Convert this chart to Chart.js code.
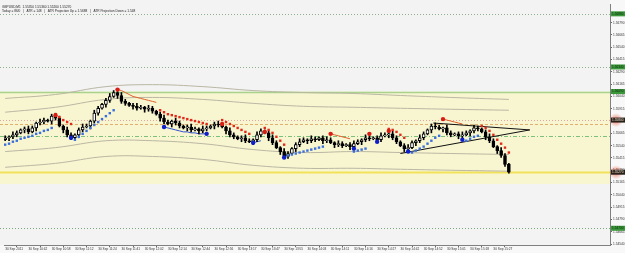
<!DOCTYPE html>
<html>
<head>
<meta charset="utf-8">
<script src="https://cdn.jsdelivr.net/npm/chart.js@4.4.0/dist/chart.umd.min.js"></script>
<style>
html,body{margin:0;padding:0;background:#f8f8f8;}
#wrap{width:625px;height:253px;}
</style>
</head>
<body>
<div id="wrap"><canvas id="myChart" width="625" height="253"></canvas></div>
<script>
// header texts
var symbolLine = "GBPUSD,M1  1.55350 1.55360 1.55260 1.55270";
var infoLine = "Today = 86/0   |   ATR = 148   |   ATR Projection Up = 1.5688   |   ATR Projection Down = 1.548";

// time axis
var timeLabels = ["30 Sep 2011","30 Sep 10:42","30 Sep 10:58","30 Sep 11:12","30 Sep 11:24","30 Sep 11:41",
  "30 Sep 12:02","30 Sep 12:14","30 Sep 12:44","30 Sep 12:56","30 Sep 13:17","30 Sep 13:47","30 Sep 13:55",
  "30 Sep 14:03","30 Sep 14:11","30 Sep 14:16","30 Sep 14:27","30 Sep 14:42","30 Sep 14:52","30 Sep 15:01",
  "30 Sep 15:18","30 Sep 15:27"];
var labelEvery = 6;

// price axis
var priceTicks = [1.56790,1.56665,1.56540,1.56415,1.56290,1.56165,1.56040,1.55915,1.55790,1.55665,
  1.55540,1.55415,1.55290,1.55165,1.55040,1.54915,1.54790,1.54665,1.54540];

// candles
var opens = [1.5560,1.5562,1.5563,1.5565,1.5567,1.5570,1.5571,1.5568,1.5572,1.5577,
1.5578,1.5580,1.5579,1.5584,1.5582,1.5574,1.5570,1.5565,1.5562,1.5565,
1.5570,1.5573,1.5574,1.5579,1.5587,1.5592,1.5596,1.5600,1.5604,1.5608,
1.5605,1.5599,1.5597,1.5595,1.5594,1.5592,1.5593,1.5591,1.5592,1.5589,
1.5586,1.5582,1.5578,1.5576,1.5579,1.5577,1.5574,1.5572,1.5573,1.5570,
1.5571,1.5569,1.5571,1.5572,1.5574,1.5576,1.5575,1.5573,1.5569,1.5565,
1.5563,1.5561,1.5562,1.5559,1.5558,1.5560,1.5565,1.5569,1.5567,1.5562,
1.5557,1.5552,1.5548,1.5543,1.5546,1.5551,1.5555,1.5558,1.5560,1.5559,
1.5561,1.5560,1.5562,1.5559,1.5560,1.5557,1.5555,1.5556,1.5554,1.5555,
1.5553,1.5556,1.5558,1.5560,1.5562,1.5561,1.5562,1.5560,1.5564,1.5565,
1.5566,1.5562,1.5558,1.5554,1.5551,1.5552,1.5557,1.5559,1.5562,1.5566,
1.5570,1.5574,1.5573,1.5571,1.5572,1.5567,1.5565,1.5566,1.5564,1.5565,
1.5567,1.5569,1.5572,1.5571,1.5568,1.5563,1.5559,1.5553,1.5549,1.5544,
1.5535];
var highs = [1.5564,1.5564,1.5568,1.5569,1.5571,1.5573,1.5574,1.5574,1.5578,1.5581,
1.5582,1.5581,1.5586,1.5587,1.5584,1.5575,1.5573,1.5567,1.5566,1.5572,
1.5576,1.5576,1.5580,1.5590,1.5594,1.5597,1.5602,1.5607,1.5610,1.5609,
1.5608,1.5601,1.5598,1.5597,1.5597,1.5595,1.5594,1.5595,1.5594,1.5590,
1.5588,1.5585,1.5580,1.5580,1.5582,1.5579,1.5575,1.5575,1.5576,1.5573,
1.5572,1.5574,1.5574,1.5575,1.5578,1.5579,1.5577,1.5574,1.5572,1.5567,
1.5564,1.5564,1.5565,1.5561,1.5561,1.5568,1.5571,1.5570,1.5569,1.5565,
1.5559,1.5553,1.5551,1.5548,1.5552,1.5557,1.5561,1.5562,1.5561,1.5564,
1.5563,1.5563,1.5564,1.5563,1.5562,1.5558,1.5559,1.5558,1.5556,1.5557,
1.5559,1.5560,1.5561,1.5565,1.5564,1.5563,1.5564,1.5567,1.5567,1.5567,
1.5569,1.5564,1.5559,1.5556,1.5555,1.5559,1.5560,1.5565,1.5568,1.5571,
1.5576,1.5577,1.5575,1.5573,1.5575,1.5569,1.5567,1.5568,1.5568,1.5569,
1.5570,1.5575,1.5574,1.5572,1.5570,1.5566,1.5561,1.5554,1.5552,1.5546,
1.5536];
var lows = [1.5559,1.5559,1.5561,1.5563,1.5566,1.5567,1.5566,1.5567,1.5569,1.5575,
1.5576,1.5578,1.5576,1.5580,1.5573,1.5567,1.5563,1.5560,1.5561,1.5562,
1.5568,1.5572,1.5571,1.5577,1.5585,1.5591,1.5593,1.5598,1.5603,1.5602,
1.5597,1.5595,1.5594,1.5591,1.5590,1.5591,1.5588,1.5589,1.5587,1.5585,
1.5579,1.5576,1.5575,1.5573,1.5575,1.5572,1.5571,1.5569,1.5568,1.5569,
1.5566,1.5567,1.5569,1.5571,1.5571,1.5573,1.5572,1.5566,1.5563,1.5561,
1.5560,1.5558,1.5557,1.5557,1.5555,1.5558,1.5563,1.5566,1.5559,1.5555,
1.5551,1.5545,1.5541,1.5541,1.5545,1.5548,1.5553,1.5557,1.5556,1.5557,
1.5558,1.5559,1.5556,1.5557,1.5556,1.5552,1.5553,1.5552,1.5553,1.5550,
1.5551,1.5555,1.5555,1.5558,1.5559,1.5560,1.5557,1.5558,1.5563,1.5562,
1.5560,1.5556,1.5553,1.5548,1.5549,1.5551,1.5554,1.5557,1.5560,1.5565,
1.5567,1.5571,1.5570,1.5568,1.5565,1.5563,1.5564,1.5561,1.5562,1.5564,
1.5564,1.5567,1.5569,1.5567,1.5560,1.5557,1.5552,1.5546,1.5542,1.5533,
1.5526];
var closes = [1.5562,1.5563,1.5565,1.5567,1.5570,1.5571,1.5568,1.5572,1.5577,1.5578,
1.5580,1.5579,1.5584,1.5582,1.5574,1.5570,1.5565,1.5562,1.5565,1.5570,
1.5573,1.5574,1.5579,1.5587,1.5592,1.5596,1.5600,1.5604,1.5608,1.5605,
1.5599,1.5597,1.5595,1.5594,1.5592,1.5593,1.5591,1.5592,1.5589,1.5586,
1.5582,1.5578,1.5576,1.5579,1.5577,1.5574,1.5572,1.5573,1.5570,1.5571,
1.5569,1.5571,1.5572,1.5574,1.5576,1.5575,1.5573,1.5569,1.5565,1.5563,
1.5561,1.5562,1.5559,1.5558,1.5560,1.5565,1.5569,1.5567,1.5562,1.5557,
1.5552,1.5548,1.5543,1.5546,1.5551,1.5555,1.5558,1.5560,1.5559,1.5561,
1.5560,1.5562,1.5559,1.5560,1.5557,1.5555,1.5556,1.5554,1.5555,1.5553,
1.5556,1.5558,1.5560,1.5562,1.5561,1.5562,1.5560,1.5564,1.5565,1.5566,
1.5562,1.5558,1.5554,1.5551,1.5552,1.5557,1.5559,1.5562,1.5566,1.5570,
1.5574,1.5573,1.5571,1.5572,1.5567,1.5565,1.5566,1.5564,1.5565,1.5567,
1.5569,1.5572,1.5571,1.5568,1.5563,1.5559,1.5553,1.5549,1.5544,1.5535,
1.5527];

// envelope bands, sampled at these bars
var envBars = [0,13,26,38,51,64,77,90,102,115,130];
var envUpperOuter = [1.5602,1.5606,1.5614,1.5616,1.5614,1.5610,1.5608,1.5607,1.5605,1.5603,1.5601];
var envUpperInner = [1.5588,1.5593,1.5601,1.5603,1.5601,1.5597,1.5594,1.5593,1.5592,1.5591,1.5590];
var envLowerInner = [1.5548,1.5552,1.5559,1.5559,1.5556,1.5550,1.5547,1.5548,1.5547,1.5546,1.5545];
var envLowerOuter = [1.5532,1.5536,1.5543,1.5543,1.5540,1.5534,1.5531,1.5531,1.5530,1.5529,1.5528];

// trailing stop marks [bar, price]
var blueSquares = [[0,1.5555],[1,1.5556],[2,1.5558],[3,1.5559],[4,1.5561],[5,1.5562],[6,1.5563],[7,1.5564],[8,1.5566],[9,1.5567],[10,1.5569],[11,1.5570],[12,1.5572],
  [18,1.5560],[19,1.5563],[20,1.5566],[21,1.5569],[22,1.5572],[23,1.5575],[24,1.5578],[25,1.5581],[26,1.5584],[27,1.5587],[28,1.5590],
  [73,1.5544],[74,1.5545],[75,1.5546],[76,1.5547],[77,1.5548],[78,1.5549],[79,1.5550],[80,1.5551],[81,1.5552],[82,1.5553],
  [90,1.5548],[91,1.5549],[92,1.5550],[93,1.5551],
  [105,1.5547],[106,1.5549],[107,1.5551],[108,1.5553],[109,1.5556],[110,1.5559],[111,1.5562],[112,1.5564],
  [119,1.5559],[120,1.5561],[121,1.5563],[122,1.5564]];
var redSquares = [[13,1.5586],[14,1.5583],[15,1.5580],[16,1.5578],[17,1.5576],
  [40,1.5590],[41,1.5588],[42,1.5586],[43,1.5585],[44,1.5584],[45,1.5583],[46,1.5582],[47,1.5581],[48,1.5580],[49,1.5579],[50,1.5578],[51,1.5577],[52,1.5576],
  [56,1.5580],[57,1.5578],[58,1.5576],[59,1.5574],[60,1.5572],[61,1.5570],[62,1.5568],[63,1.5566],
  [67,1.5572],[68,1.5570],[69,1.5567],[70,1.5563],[71,1.5559],[72,1.5555],
  [99,1.5571],[100,1.5570],[101,1.5568],[102,1.5565],[103,1.5562],
  [123,1.5574],[124,1.5572],[125,1.5569],[126,1.5565],[127,1.5560],[128,1.5556],[129,1.5552],[130,1.5547]];
var redStopLines = [
  [[29,1.5611],[30,1.5610],[31,1.5608],[32,1.5606],[33,1.5604],[34,1.5603],[35,1.5602],[36,1.5601],[37,1.5600],[38,1.5599],[39,1.5598]],
  [[84,1.5566],[85,1.5565],[86,1.5564],[87,1.5563],[88,1.5562],[89,1.5561]],
  [[113,1.5581],[114,1.5580],[115,1.5579],[116,1.5578],[117,1.5577],[118,1.5576]]];
var blueStopLines = [
  [[41,1.5573],[42,1.5572],[43,1.5571],[44,1.5570],[45,1.5569],[46,1.5568],[47,1.5568],[48,1.5567],[49,1.5567],[50,1.5566],[51,1.5566],[52,1.5566]],
  [[64,1.5557],[65,1.5558],[66,1.5559]]];
var blueDots = [[17,1.5562],[41,1.5573],[52,1.5566],[64,1.5557],[72,1.5542],[90,1.5551],[96,1.5558],[104,1.5548],[118,1.5560]];
var redDots = [[13,1.5585],[29,1.5611],[56,1.5576],[67,1.5568],[84,1.5566],[94,1.5566],[99,1.5569],[113,1.5581]];

// triangle drawn on the chart [bar, price]
var triangleLower = [[102,1.5546],[135.4,1.5570]];
var triangleUpper = [[110.5,1.5577],[135.4,1.5570]];

// horizontal levels
var zonePrices = [1.5609, 1.5515];
var levelPrices = [1.5688, 1.5634, 1.5609, 1.5580, 1.5576, 1.5564, 1.5527, 1.5470];
var greenTagPrices = [1.5688, 1.5634, 1.5609, 1.5470];
var darkTagPrices = [1.5580, 1.5527];

var levelStyles = [
  {color:'#8fae8f', width:1, dash:[1,2]},
  {color:'#8fae8f', width:1, dash:[1,2]},
  {color:'#a9d28c', width:1.5, dash:[]},
  {color:'#e3a3a3', width:1, dash:[1,2]},
  {color:'#e2b06c', width:1, dash:[3,2]},
  {color:'#7cc07c', width:1, dash:[4,2,1,2]},
  {color:'#f1e25a', width:2, dash:[]},
  {color:'#7aa87a', width:1, dash:[1,2]}
];

function pts(list){ return list.map(function(p){ return {x:p[0], y:p[1]}; }); }
function env(vals){ return vals.map(function(v,i){ return {x:envBars[i], y:v}; }); }

var mt4Plugin = {
  id: 'mt4',
  beforeDraw: function(chart){
    var ctx = chart.ctx, a = chart.chartArea, y = chart.scales.y;
    ctx.save();
    ctx.fillStyle = '#f3f3f3';
    ctx.fillRect(0, 0, a.right, a.bottom);
    var t = y.getPixelForValue(zonePrices[0]), b = y.getPixelForValue(zonePrices[1]);
    ctx.fillStyle = '#f8f6d1';
    ctx.fillRect(0, t, a.right, b - t);
    levelPrices.forEach(function(p, i){
      var s = levelStyles[i];
      var py = Math.round(y.getPixelForValue(p)) + 0.5;
      ctx.strokeStyle = s.color;
      ctx.lineWidth = s.width;
      ctx.setLineDash(s.dash);
      ctx.beginPath();
      ctx.moveTo(0, py);
      ctx.lineTo(a.right, py);
      ctx.stroke();
    });
    ctx.restore();
  },
  afterDraw: function(chart){
    var ctx = chart.ctx, a = chart.chartArea, y = chart.scales.y;
    ctx.save();
    ctx.font = '3.2px "Liberation Sans"';
    ctx.textBaseline = 'middle';
    // price tags
    greenTagPrices.forEach(function(p){
      var py = y.getPixelForValue(p);
      ctx.fillStyle = '#3a983a';
      ctx.fillRect(a.right + 1, py - 2.5, 14, 5);
      ctx.fillStyle = '#0b2a0b';
      ctx.fillText(p.toFixed(5), a.right + 2, py);
    });
    darkTagPrices.forEach(function(p){
      var py = y.getPixelForValue(p);
      var g = ctx.createRadialGradient(a.right + 6, py, 0, a.right + 6, py, 7);
      g.addColorStop(0, 'rgba(235,110,90,0.9)');
      g.addColorStop(1, 'rgba(235,110,90,0)');
      ctx.fillStyle = g;
      ctx.beginPath();
      ctx.arc(a.right + 6, py, 7, 0, Math.PI * 2);
      ctx.fill();
      ctx.fillStyle = '#2a2018';
      ctx.fillRect(a.right + 1, py - 2.5, 14, 5);
      ctx.fillStyle = '#e8e0d0';
      ctx.fillText(p.toFixed(5), a.right + 2, py);
    });
    // header text
    ctx.fillStyle = '#222';
    ctx.fillText(symbolLine, 2, a.top + 3);
    ctx.fillText(infoLine, 2, a.top + 7);
    ctx.restore();
  }
};

function zeroPad(scale){
  scale.paddingTop = 0; scale.paddingBottom = 0;
  scale.paddingLeft = 0; scale.paddingRight = 0;
}

var datasets = [];
datasets.push({type:'bar', data: highs.map(function(h,i){ return {x:i, y:[lows[i], h]}; }),
  backgroundColor:'#000', borderWidth:0, barThickness:1, grouped:false, order:3});
datasets.push({type:'bar', data: opens.map(function(o,i){ return {x:i, y:[o, closes[i]]}; }),
  backgroundColor: function(c){ var i = c.dataIndex; return closes[i] >= opens[i] ? '#ffffff' : '#000000'; },
  borderColor:'#000', borderWidth:1, borderSkipped:false, barThickness:3, minBarLength:1, grouped:false, order:2});
[envUpperOuter, envUpperInner, envLowerInner, envLowerOuter].forEach(function(v){
  datasets.push({type:'line', data: env(v), borderColor:'#bab7a4', borderWidth:1, pointRadius:0, tension:0.4, order:9});
});
redStopLines.forEach(function(s){
  datasets.push({type:'line', data: pts(s), borderColor:'#e0602c', borderWidth:1, pointRadius:0, order:6});
});
blueStopLines.forEach(function(s){
  datasets.push({type:'line', data: pts(s), borderColor:'#3050d0', borderWidth:1, pointRadius:0, order:6});
});
datasets.push({type:'scatter', data: pts(blueSquares), pointStyle:'rect', pointRadius:1.7,
  backgroundColor:'#3b6fdc', borderWidth:0, order:1});
datasets.push({type:'scatter', data: pts(redSquares), pointStyle:'rect', pointRadius:1.7,
  backgroundColor:'#e02a1c', borderWidth:0, order:1});
datasets.push({type:'line', data: pts(triangleLower), borderColor:'#111', borderWidth:1, pointRadius:0, order:4});
datasets.push({type:'line', data: pts(triangleUpper), borderColor:'#111', borderWidth:1, pointRadius:0, order:4});
datasets.push({type:'scatter', data: pts(blueDots), pointRadius:2.2, backgroundColor:'#1020c8', borderWidth:0, order:0});
datasets.push({type:'scatter', data: pts(redDots), pointRadius:2.2, backgroundColor:'#d81e14', borderWidth:0, order:0});

var ctx = document.getElementById('myChart').getContext('2d');
var myChart = new Chart(ctx, {
  type: 'bar',
  data: { datasets: datasets },
  options: {
    responsive: false,
    animation: false,
    events: [],
    layout: { padding: 0 },
    plugins: { legend: {display:false}, tooltip: {enabled:false} },
    scales: {
      x: {
        type: 'linear', position: 'bottom', min: -0.3, max: 156.1, offset: false,
        grid: { drawOnChartArea:false, drawTicks:true, tickLength:2, color:'#666' },
        border: { display:true, color:'#808080' },
        afterBuildTicks: function(s){ s.ticks = timeLabels.map(function(l,k){ return {value: k * labelEvery}; }); },
        afterFit: function(s){ s.height = 8; zeroPad(s); },
        ticks: {
          autoSkip:false, maxRotation:0, align:'start', padding:0,
          color:'#333', font:{family:'Liberation Sans', size:3.2},
          callback: function(v){ return timeLabels[Math.round(v / labelEvery)]; }
        }
      },
      y: {
        type: 'linear', position: 'right', min: 1.5453, max: 1.5698,
        grid: { drawOnChartArea:false, drawTicks:true, tickLength:2, color:'#666' },
        border: { display:true, color:'#808080' },
        afterBuildTicks: function(s){ s.ticks = priceTicks.map(function(v){ return {value:v}; }); },
        afterFit: function(s){ s.width = 15; zeroPad(s); },
        ticks: {
          autoSkip:false, padding:1, color:'#333', font:{family:'Liberation Sans', size:3.2},
          callback: function(v){ return v.toFixed(5); }
        }
      }
    }
  },
  plugins: [mt4Plugin]
});
</script>
</body>
</html>
